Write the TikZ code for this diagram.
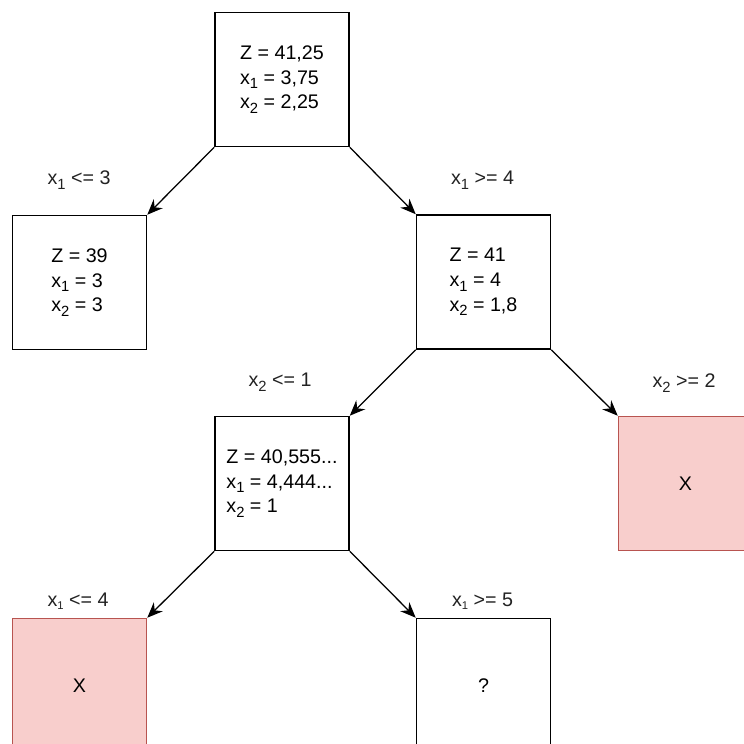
\documentclass[tikz,border=0pt]{standalone}
\usepackage{fontspec}
\setmainfont{Liberation Sans}
\usetikzlibrary{arrows.meta,positioning}
\definecolor{CutFill}{HTML}{F8CECC}
\definecolor{CutLine}{HTML}{B85450}
\definecolor{LabelGray}{HTML}{222222}
\newcommand{\xsub}[1]{x\raisebox{-3.2pt}{\fontsize{10.5}{10.5}\selectfont #1}}

\begin{document}
\begin{tikzpicture}[
    x=0.025cm, y=-0.025cm,
    font=\fontsize{14}{17.5}\selectfont,
    bbnode/.style={draw=black, line width=1.1pt, fill=white, minimum width=3.35cm, minimum height=3.35cm, align=left, inner sep=0pt},
    cutnode/.style={draw=CutLine, fill=CutFill, line width=1.1pt, minimum width=3.35cm, minimum height=3.35cm, inner sep=0pt},
    branch/.style={-{Stealth[length=11pt,width=9pt]}, line width=0.9pt},
    cond/.style={text=LabelGray}
]

  \clip (0,0) rectangle (744,744);

  % =========================================================================
  % NOS DA ARVORE (branch and bound)
  % =========================================================================
  \node[bbnode] (n_root) at (282, 79.5) {Z = 41,25\\\xsub{1} = 3,75\\\xsub{2} = 2,25};

  \node[bbnode] (n_left) at (79.5, 282.5) {Z = 39\\\xsub{1} = 3\\\xsub{2} = 3};
  \node[bbnode] (n_right) at (483.5, 282) {Z = 41\\\xsub{1} = 4\\\xsub{2} = 1,8};

  \node[bbnode] (n_mid) at (282, 483.5) {Z = 40,555...\\\xsub{1} = 4,444...\\\xsub{2} = 1};
  \node[cutnode] (n_cut1) at (685.5, 483.5) {X};

  \node[cutnode] (n_cut2) at (79.5, 685.5) {X};
  \node[bbnode] (n_open) at (483.5, 685.5) {?};

  % =========================================================================
  % RAMOS
  % =========================================================================
  \draw[branch] (n_root.south west) -- (n_left.north east);
  \draw[branch] (n_root.south east) -- (n_right.north west);
  \draw[branch] (n_right.south west) -- (n_mid.north east);
  \draw[branch] (n_right.south east) -- (n_cut1.north west);
  \draw[branch] (n_mid.south west) -- (n_cut2.north east);
  \draw[branch] (n_mid.south east) -- (n_open.north west);

  % restricoes
  \node[cond] (c_a) at (79, 180) {\xsub{1} <= 3};
  \node[cond] (c_b) at (482.5, 180) {\xsub{1} >= 4};
  \node[cond] (c_c) at (280, 382) {\xsub{2} <= 1};
  \node[cond] (c_d) at (684, 383) {\xsub{2} >= 2};
  \node[cond] (c_e) at (78, 601) {x{\fontsize{8}{8}\selectfont\raisebox{-2.5pt}{1}} <= 4};
  \node[cond] (c_f) at (482.5, 601) {x{\fontsize{8}{8}\selectfont\raisebox{-2.5pt}{1}} >= 5};

\end{tikzpicture}
\end{document}
